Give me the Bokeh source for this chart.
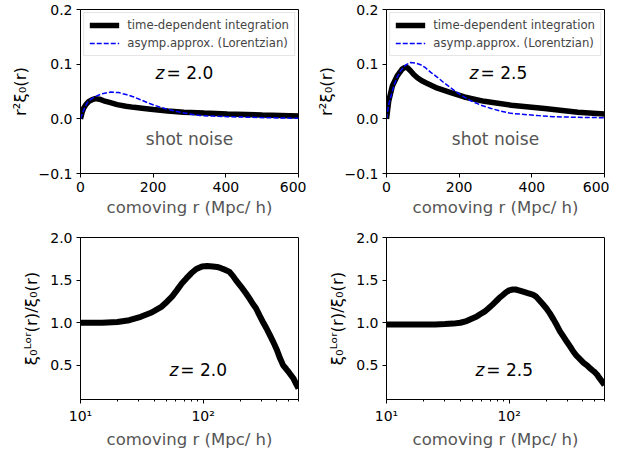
import numpy as np
from bokeh.plotting import figure
from bokeh.layouts import column, row
from bokeh.models import FixedTicker, Range1d
from bokeh.core.properties import value
from bokeh.embed import file_html
from bokeh.resources import INLINE

# ---- data ----
# top-left, z = 2.0 : r^2 xi_0(r)
r_td_20 = [0, 4, 9, 16, 23, 32, 41, 52, 64, 80, 101, 125, 147, 175, 200, 240, 284, 340, 404, 500, 600]
xi_td_20 = [0, 0.011, 0.020, 0.027, 0.032, 0.035, 0.037, 0.036, 0.033, 0.030, 0.026, 0.023,
            0.021, 0.019, 0.017, 0.0145, 0.012, 0.0105, 0.009, 0.007, 0.005]
r_lor_20 = [0, 8, 18, 29, 41, 60, 83, 105, 128, 147, 165, 190, 220, 248, 275, 300, 330, 365, 404, 460, 514, 600]
xi_lor_20 = [0, 0.015, 0.029, 0.036, 0.041, 0.046, 0.049, 0.048, 0.044, 0.040, 0.035, 0.028,
             0.021, 0.016, 0.012, 0.009, 0.006, 0.005, 0.004, 0.003, 0.002, 0.001]

# top-right, z = 2.5
r_td_25 = [0, 6, 16, 29, 43, 50, 57, 66, 75, 85, 96, 108, 140, 177, 214, 269, 343, 435, 527, 600]
xi_td_25 = [0, 0.032, 0.060, 0.078, 0.091, 0.094, 0.094, 0.088, 0.081, 0.075, 0.070, 0.066,
            0.056, 0.048, 0.040, 0.032, 0.025, 0.019, 0.012, 0.009]
r_lor_25 = [0, 6, 20, 30, 39, 52, 66, 80, 94, 108, 122, 140, 158, 176, 195, 213, 232, 260, 288,
            315, 343, 380, 417, 460, 509, 600]
xi_lor_25 = [0, 0.026, 0.060, 0.077, 0.088, 0.098, 0.103, 0.102, 0.099, 0.093, 0.085, 0.076,
             0.066, 0.057, 0.048, 0.040, 0.033, 0.025, 0.019, 0.014, 0.010, 0.008, 0.006,
             0.004, 0.003, 0.002]

# bottom: ratio xi_Lor / xi
r_ratio_20 = [10, 15, 20, 25, 31, 38, 46, 51, 56, 61, 67, 73, 80, 88, 98, 108, 120, 130, 140, 152,
              163, 175, 185, 197, 210, 225, 240, 255, 270, 290, 310, 330, 349, 375, 400, 425,
              450, 475, 500, 544, 575, 600]
ratio_20 = [1.0, 1.0, 1.01, 1.03, 1.07, 1.12, 1.19, 1.25, 1.31, 1.38, 1.46, 1.52, 1.58, 1.63,
            1.66, 1.665, 1.66, 1.655, 1.64, 1.62, 1.60, 1.55, 1.50, 1.45, 1.40, 1.34, 1.28,
            1.22, 1.17, 1.08, 1.00, 0.93, 0.86, 0.77, 0.68, 0.58, 0.50, 0.46, 0.42, 0.35,
            0.28, 0.23]
r_ratio_25 = [10, 15, 20, 25, 30, 35, 40, 45, 50, 54, 58, 63, 68, 73, 78, 83, 88, 94, 100, 107,
              113, 120, 130, 140, 156, 165, 175, 188, 201, 215, 230, 245, 260, 277, 295, 315,
              335, 357, 380, 405, 432, 455, 480, 500, 523, 540, 560, 580, 600]
ratio_25 = [0.98, 0.98, 0.98, 0.98, 0.985, 0.99, 1.0, 1.02, 1.05, 1.07, 1.10, 1.13, 1.17, 1.21,
            1.25, 1.29, 1.32, 1.355, 1.38, 1.39, 1.39, 1.38, 1.365, 1.35, 1.33, 1.31, 1.27,
            1.22, 1.17, 1.11, 1.04, 0.97, 0.90, 0.84, 0.78, 0.72, 0.66, 0.61, 0.57, 0.53,
            0.50, 0.47, 0.44, 0.42, 0.39, 0.36, 0.33, 0.30, 0.27]

top_xticks = [0, 200, 400, 600]
top_yticks = [-0.1, 0.0, 0.1, 0.2]
top_ylabels = ["\u22120.1", "0.0", "0.1", "0.2"]
bot_xticks = [10, 100]
bot_xlabels = ["10\u00b9", "10\u00b2"]
bot_xminor = [20, 30, 40, 50, 60, 70, 80, 90, 200, 300, 400, 500, 600]
bot_yticks = [0.5, 1.0, 1.5, 2.0]
bot_ylabels = ["0.5", "1.0", "1.5", "2.0"]

FONT = "DejaVu Sans"
XLABEL = "comoving r (Mpc/ h)"
GREY = "#555555"


def style(p):
    p.outline_line_color = "black"
    p.outline_line_width = 1
    p.xgrid.visible = False
    p.ygrid.visible = False
    for ax in (p.xaxis[0], p.yaxis[0]):
        ax.axis_line_color = "black"
        ax.major_tick_line_color = "black"
        ax.major_tick_out = 4
        ax.major_tick_in = 0
        ax.major_label_text_font = FONT
        ax.major_label_text_font_size = "14px"
        ax.major_label_text_color = "black"
        ax.major_label_standoff = 4
        ax.axis_label_text_font = FONT
        ax.axis_label_text_font_size = "16.5px"
        ax.axis_label_text_font_style = "normal"
        ax.minor_tick_line_color = None
    p.xaxis[0].axis_label_text_color = GREY
    p.yaxis[0].axis_label_text_color = "black"
    p.xaxis[0].axis_label_standoff = 3
    p.yaxis[0].axis_label_standoff = 6


def zlabel(p, x, y, zval):
    p.text(x=[x], y=[y], text=["z"], text_font=value(FONT), text_font_style="italic",
           text_font_size="17px", text_align="right", text_baseline="middle", x_offset=-1,
           text_color="black")
    p.text(x=[x], y=[y], text=["= " + zval], text_font=value(FONT),
           text_font_size="17px", text_align="left", text_baseline="middle", x_offset=1,
           text_color="black")


def top_panel(r_td, xi_td, r_lor, xi_lor, zval, zx, left_border, right_border):
    p = figure(frame_width=218, frame_height=164, output_backend="svg", toolbar_location=None,
               x_range=Range1d(0, 600), y_range=Range1d(-0.1, 0.2),
               min_border_left=left_border, min_border_right=right_border,
               min_border_top=9, min_border_bottom=50)
    style(p)
    p.line(r_td, xi_td, line_color="black", line_width=5.5, legend_label="time-dependent integration")
    p.line(r_lor, xi_lor, line_color="blue", line_width=1.5, line_dash="5 2",
           legend_label="asymp.approx. (Lorentzian)")
    p.xaxis.ticker = FixedTicker(ticks=top_xticks)
    p.yaxis.ticker = FixedTicker(ticks=top_yticks)
    p.yaxis.major_label_overrides = {t: l for t, l in zip(top_yticks, top_ylabels)}
    p.xaxis.axis_label = XLABEL
    p.yaxis.axis_label = "r\u00b2\u03be\u2080(r)"
    p.text(x=[300], y=[-0.037], text=["shot noise"], text_font=value(FONT),
           text_font_size="17px", text_color=GREY, text_align="center",
           text_baseline="middle")
    zlabel(p, zx, 0.083, zval)
    lg = p.legend[0]
    lg.location = "top_right"
    lg.label_text_font = FONT
    lg.label_text_font_size = "11.7px"
    lg.glyph_width = 30
    lg.glyph_height = 12
    lg.label_height = 12
    lg.spacing = 4
    lg.padding = 5
    lg.margin = 3
    lg.label_standoff = 8
    lg.border_line_color = "#cccccc"
    lg.background_fill_alpha = 0.85
    return p


def bot_panel(r, ratio, zval, left_border, right_border):
    p = figure(frame_width=218, frame_height=162, output_backend="svg", toolbar_location=None,
               x_axis_type="log", x_range=Range1d(10, 600), y_range=Range1d(0.1, 2.0),
               min_border_left=left_border, min_border_right=right_border,
               min_border_top=14, min_border_bottom=50)
    style(p)
    p.line(r, ratio, line_color="black", line_width=6)
    p.xaxis.ticker = FixedTicker(ticks=bot_xticks, minor_ticks=bot_xminor)
    p.xaxis.minor_tick_line_color = "black"
    p.xaxis.minor_tick_out = 2
    p.xaxis.minor_tick_in = 0
    p.xaxis.major_label_overrides = {t: l for t, l in zip(bot_xticks, bot_xlabels)}
    p.yaxis.ticker = FixedTicker(ticks=bot_yticks)
    p.yaxis.major_label_overrides = {t: l for t, l in zip(bot_yticks, bot_ylabels)}
    p.xaxis.axis_label = XLABEL
    p.yaxis.axis_label = "\u03be\u2080\u1d38\u1d52\u02b3(r)/\u03be\u2080(r)"
    zlabel(p, 64, 0.45, zval)
    return p


p1 = top_panel(r_td_20, xi_td_20, r_lor_20, xi_lor_20, "2.0", 234, 80, 8)
p2 = top_panel(r_td_25, xi_td_25, r_lor_25, xi_lor_25, "2.5", 256, 80, 5)
p3 = bot_panel(r_ratio_20, ratio_20, "2.0", 80, 8)
p4 = bot_panel(r_ratio_25, ratio_25, "2.5", 80, 5)

layout = column(row(p1, p2), row(p3, p4))
open("out.html", "w").write(file_html(layout, INLINE))
